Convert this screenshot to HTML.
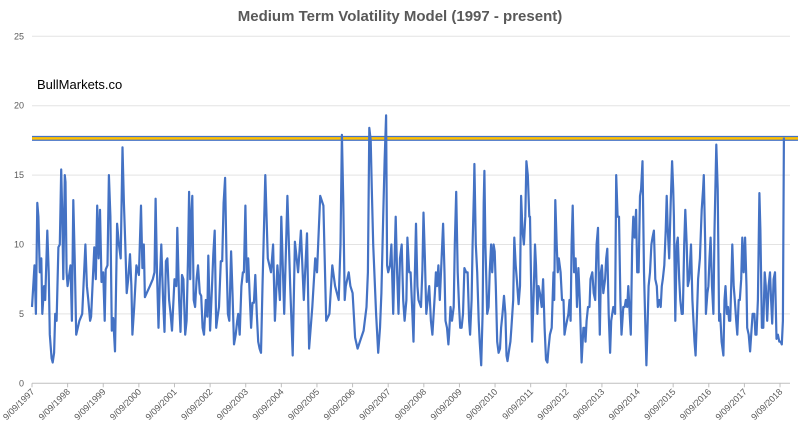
<!DOCTYPE html>
<html><head><meta charset="utf-8"><style>
html,body{margin:0;padding:0;background:#fff;}
svg{display:block;font-family:"Liberation Sans",sans-serif;}
</style></head><body>
<svg id="chart" width="800" height="425" viewBox="0 0 800 425" xmlns="http://www.w3.org/2000/svg">
<rect x="0" y="0" width="800" height="425" fill="#fff"/>
<text x="400" y="21" text-anchor="middle" font-size="15" font-weight="bold" fill="#595959">Medium Term Volatility Model (1997 - present)</text>
<text x="37" y="89" font-size="13" fill="#000">BullMarkets.co</text>
<g id="grid"></g><g id="yticks"></g><g id="xticks"></g><g id="refline"></g><g id="series"></g>
</svg>
<script>
const yTicks = [0, 5, 10, 15, 20, 25];
const xTickYears = [1997,1998,1999,2000,2001,2002,2003,2004,2005,2006,2007,2008,2009,2010,2011,2012,2013,2014,2015,2016,2017,2018];
const thresholdValue = 17.65;
const dates = [1997.69,1997.76,1997.80,1997.84,1997.87,1997.91,1997.95,1997.98,1998.03,1998.06,1998.12,1998.16,1998.19,1998.24,1998.27,1998.31,1998.34,1998.38,1998.43,1998.47,1998.51,1998.54,1998.57,1998.61,1998.63,1998.66,1998.69,1998.77,1998.81,1998.85,1998.89,1998.93,1999.02,1999.10,1999.19,1999.23,1999.27,1999.32,1999.35,1999.44,1999.48,1999.52,1999.56,1999.60,1999.64,1999.69,1999.73,1999.76,1999.81,1999.85,1999.89,1999.93,1999.97,2000.02,2000.08,2000.13,2000.18,2000.23,2000.27,2000.31,2000.35,2000.39,2000.44,2000.48,2000.51,2000.56,2000.62,2000.69,2000.75,2000.79,2000.83,2000.86,2000.91,2001.00,2001.08,2001.13,2001.16,2001.20,2001.24,2001.28,2001.32,2001.37,2001.41,2001.45,2001.49,2001.54,2001.58,2001.62,2001.69,2001.74,2001.77,2001.82,2001.86,2001.90,2001.94,2001.99,2002.03,2002.07,2002.10,2002.13,2002.16,2002.19,2002.23,2002.27,2002.31,2002.35,2002.40,2002.44,2002.48,2002.52,2002.57,2002.61,2002.64,2002.69,2002.74,2002.78,2002.82,2002.86,2002.90,2002.94,2002.99,2003.03,2003.07,2003.11,2003.15,2003.19,2003.23,2003.28,2003.32,2003.36,2003.41,2003.45,2003.48,2003.52,2003.57,2003.61,2003.64,2003.68,2003.72,2003.76,2003.80,2003.84,2003.88,2003.92,2003.96,2004.00,2004.04,2004.08,2004.12,2004.16,2004.24,2004.31,2004.40,2004.46,2004.51,2004.58,2004.65,2004.69,2004.77,2004.86,2004.94,2005.01,2005.07,2005.16,2005.24,2005.32,2005.41,2005.47,2005.56,2005.64,2005.69,2005.78,2005.87,2005.95,2006.04,2006.12,2006.20,2006.30,2006.35,2006.39,2006.43,2006.47,2006.50,2006.58,2006.63,2006.69,2006.76,2006.83,2006.92,2007.00,2007.08,2007.12,2007.16,2007.20,2007.23,2007.27,2007.35,2007.41,2007.46,2007.50,2007.55,2007.59,2007.63,2007.66,2007.69,2007.74,2007.78,2007.83,2007.90,2007.94,2007.98,2008.02,2008.07,2008.11,2008.15,2008.20,2008.23,2008.28,2008.32,2008.37,2008.40,2008.44,2008.47,2008.51,2008.54,2008.61,2008.65,2008.68,2008.72,2008.76,2008.80,2008.84,2008.89,2008.93,2009.00,2009.03,2009.06,2009.10,2009.14,2009.19,2009.23,2009.27,2009.30,2009.34,2009.38,2009.40,2009.44,2009.48,2009.53,2009.56,2009.60,2009.64,2009.68,2009.71,2009.75,2009.79,2009.83,2009.88,2009.92,2009.96,2009.99,2010.03,2010.06,2010.10,2010.11,2010.15,2010.19,2010.23,2010.26,2010.30,2010.34,2010.37,2010.39,2010.42,2010.47,2010.51,2010.54,2010.58,2010.61,2010.65,2010.68,2010.71,2010.75,2010.79,2010.83,2010.86,2010.90,2010.94,2010.98,2011.01,2011.04,2011.09,2011.12,2011.15,2011.20,2011.23,2011.27,2011.30,2011.35,2011.39,2011.42,2011.46,2011.50,2011.54,2011.57,2011.61,2011.65,2011.67,2011.73,2011.77,2011.81,2011.84,2011.88,2011.91,2011.95,2012.00,2012.04,2012.08,2012.12,2012.16,2012.19,2012.23,2012.28,2012.33,2012.35,2012.38,2012.42,2012.45,2012.48,2012.53,2012.57,2012.61,2012.64,2012.67,2012.71,2012.75,2012.78,2012.81,2012.84,2012.87,2012.91,2012.95,2012.99,2013.03,2013.07,2013.12,2013.17,2013.20,2013.23,2013.26,2013.30,2013.34,2013.37,2013.42,2013.46,2013.50,2013.54,2013.58,2013.61,2013.63,2013.66,2013.69,2013.73,2013.78,2013.81,2013.84,2013.88,2013.92,2013.95,2014.01,2014.06,2014.09,2014.13,2014.17,2014.21,2014.24,2014.29,2014.33,2014.36,2014.40,2014.43,2014.47,2014.50,2014.54,2014.57,2014.61,2014.65,2014.68,2014.72,2014.76,2014.79,2014.83,2014.87,2014.91,2014.94,2014.97,2015.00,2015.04,2015.08,2015.11,2015.15,2015.19,2015.23,2015.26,2015.30,2015.34,2015.37,2015.40,2015.44,2015.48,2015.51,2015.54,2015.58,2015.62,2015.66,2015.69,2015.71,2015.75,2015.79,2015.82,2015.86,2015.89,2015.93,2015.96,2016.00,2016.03,2016.07,2016.10,2016.14,2016.19,2016.23,2016.25,2016.29,2016.32,2016.36,2016.39,2016.44,2016.49,2016.53,2016.55,2016.59,2016.61,2016.65,2016.68,2016.71,2016.74,2016.78,2016.82,2016.85,2016.90,2016.94,2016.98,2017.01,2017.05,2017.10,2017.13,2017.16,2017.20,2017.23,2017.26,2017.29,2017.32,2017.35,2017.39,2017.42,2017.46,2017.49,2017.53,2017.56,2017.60,2017.63,2017.67,2017.71,2017.75,2017.77,2017.81,2017.85,2017.88,2017.92,2017.97,2018.00,2018.03,2018.07,2018.11,2018.14,2018.18,2018.22,2018.26,2018.29,2018.33,2018.37,2018.41,2018.44,2018.47,2018.51,2018.55,2018.59,2018.63,2018.67,2018.71,2018.74,2018.77,2018.80];
const values = [5.5,8.5,5,13,12,8,9,5,7,6,11,8,3.5,1.8,1.5,2.2,5,4.5,9.8,10,15.4,12,7.5,15,14.5,8,7,8.5,4.5,13.2,9,3.5,4.5,5,10,7,6,4.5,4.8,9.8,7.5,12.8,9,12.5,7.3,8,4.5,8.2,8.5,15,12,3.8,4.7,2.3,11.5,10,9,17,13,10,6.5,7.5,9.3,7,3.5,5.5,8.5,7.8,12.8,8.3,10,6.2,6.5,7,7.5,8,13.3,8,4,7.5,10,6,3.7,8.8,9,6,5,3.8,7.5,7,11.2,6,3.7,7.8,7.5,3.5,4.5,9,13.8,7.5,12,13.5,6,5.5,7.5,8.5,6.5,6.3,4,3.5,6,4.8,9.2,3.8,6.8,9.3,11,4,4.8,5.5,8.8,8.8,13,14.8,9,5,4.5,9.5,6.5,2.8,3.5,4.5,5,3.5,7,8,8,12.8,7.3,9,6.5,4,5.8,5.8,7.8,5,3,2.5,2.2,7,15,9,8,10,4.5,8.5,6,12,5,13.5,7,2,10.2,8,11,6,10.8,2.5,5.5,9,8,13.5,12.8,4.5,5,8.5,7,6,10,17.9,13,6,7,8,7,6.5,3.3,2.5,3.2,3.8,5.5,8,18.4,17.5,14,10,5,2.2,4,6.5,12,16,19.3,8.5,8,8.5,10,5,12,8,5,9,10,6,4.5,6,10.5,8,8,5,3,8,11.5,7,6,5.5,8.2,12.3,9,5,6,7,4.5,3.5,6.5,8,7,8.5,6,9,11.5,8,4.5,4,2.8,3.5,5.5,4.5,5.5,10,13.8,8,5.5,4,4,5,8.3,8,8,4.5,3.5,6,10,14,15.8,10,8,4.5,3,1.3,5,13,15.3,10,5,5.5,8,10,8,10,9.5,7,3,2.2,2.5,4,5,6.3,5,2,1.6,2.5,3,4,6,10.5,8.5,7.5,5.7,7,13.5,11,10,12,16,15,12,12,3,6,10,8.5,5,7,6.5,5.5,7.5,4,1.7,1.5,2.5,3.5,4,8,6,13.2,10,8,9,8,6,6,3.5,4,4.5,5,6,4.5,10,12.8,8,9,5.5,8.3,6,1.5,4,4,3,4.5,5.5,5.5,7.5,8,6.5,6,10,11.2,6,3.5,8,8.5,6.5,7.5,9,9.7,5,2.2,4.5,5.5,5,15,12,12,6,3.5,5.5,5.5,6,5.5,7,5,3.5,10,12,10.5,12.5,8,8,13.5,14,16,8,4,1.3,4,7,8,10,10.5,11,7.5,7,5.5,6,5.5,7,7.5,8.5,11,13.5,11,9,13,16,14,12,4.5,10,10.5,7.5,6,5,5,10,12.5,10,7,7.5,10,6,5,3,2,5,7.5,9,12.5,14,15,10,5,6.5,7,9,10.5,7,5,11,17.2,14,4.5,5,3,2,6,7,5,5.5,4.5,4.5,7,10,7,6,4.5,3.5,6,6,7.5,10.5,8,10.5,7,4,3.5,2.3,3.5,5,5,3.5,3.5,6,13.7,11,4,4,8,7,4.5,7,8,6,4.3,7.5,8,3.2,3.5,3,3,2.8,4.5,17.7];

const NS = "http://www.w3.org/2000/svg";
const X0 = 32, PX_PER_YEAR = 35.62, YEAR0 = 1997.69;
const Y0 = 383.3, PX_PER_UNIT = 13.88, XR = 790;
function xScale(yr){ return X0 + (yr - YEAR0) * PX_PER_YEAR; }
function yScale(v){ return Y0 - v * PX_PER_UNIT; }
function mk(tag, attrs, parent){ const e = document.createElementNS(NS, tag); for (const k in attrs) e.setAttribute(k, attrs[k]); parent.appendChild(e); return e; }

const grid = document.getElementById('grid');
const yt = document.getElementById('yticks');
yTicks.forEach(v => {
  const y = yScale(v);
  const gl = mk('line', {x1: X0, x2: XR, y1: y, y2: y, stroke: v === 0 ? '#bfbfbf' : '#e3e3e3', 'stroke-width': 1}, grid);
  
  
  const t = mk('text', {x: 24, y: y + 3, 'text-anchor': 'end', 'font-size': 9, fill: '#595959'}, yt);
  t.textContent = v;
  
  
});

const xt = document.getElementById('xticks');
xTickYears.forEach(yr => {
  const x = xScale(yr + 0.69);
  const tk = mk('line', {x1: x, x2: x, y1: Y0, y2: Y0 + 4, stroke: '#bfbfbf', 'stroke-width': 1}, xt);
  
  
  const t = mk('text', {x: x + 3, y: Y0 + 9, 'text-anchor': 'end', 'font-size': 9, fill: '#595959', transform: 'rotate(-45 ' + (x + 3) + ' ' + (Y0 + 9) + ')'}, xt);
  t.textContent = '9/09/' + yr;
  
  
});

const rl = document.getElementById('refline');
const ry = yScale(thresholdValue);
const r1 = mk('line', {x1: X0, x2: 798, y1: ry, y2: ry, stroke: '#4472c4', 'stroke-width': 5}, rl);


const r2 = mk('line', {x1: X0, x2: 798, y1: ry, y2: ry, stroke: '#ffc000', 'stroke-width': 2.5}, rl);



const sg = document.getElementById('series');
const pts = dates.map((d, i) => xScale(d).toFixed(1) + ',' + yScale(values[i]).toFixed(1)).join(' ');
const pl = mk('polyline', {points: pts, fill: 'none', stroke: '#4472c4', 'stroke-width': 2.2, 'stroke-linejoin': 'round'}, sg);


</script>
</body></html>
